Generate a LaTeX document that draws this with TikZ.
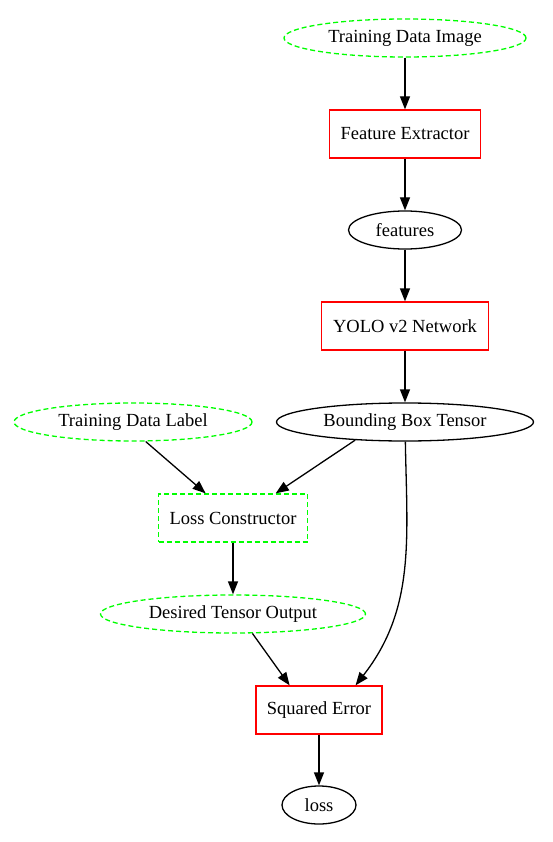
\documentclass[tikz,border=0pt]{standalone}
\usepackage{fontspec}
\setmainfont{Liberation Serif}
\usepackage{tikz}
\usetikzlibrary{arrows.meta, shapes.geometric}

\begin{document}
\begin{tikzpicture}[x=1pt, y=-1pt, line width=1.3pt,
    font=\fontsize{18.5}{22}\selectfont,
    ell/.style={draw, ellipse, inner sep=0pt, minimum height=38pt},
    greenell/.style={ell, draw=green, dash pattern=on 5pt off 3pt},
    redbox/.style={draw=red, rectangle, inner sep=0pt, minimum height=48pt},
    greenbox/.style={draw=green, rectangle, inner sep=0pt, minimum height=48pt, dash pattern=on 5pt off 3pt},
    edge/.style={-{Triangle[length=13pt, width=10pt]}, black}]
            \useasboundingbox (0,0) rectangle (553,842);

            % Image branch
            \node[greenell, minimum width=242pt] (tdi) at (405,38) {Training Data Image};
            \node[redbox, minimum width=151pt] (fe) at (405,134) {Feature Extractor};
            \node[ell, minimum width=113pt] (feat) at (405,230) {features};
            \node[redbox, minimum width=167pt] (yolo) at (405,326) {YOLO v2 Network};
            \node[ell, minimum width=257pt] (bbt) at (405,422) {Bounding Box Tensor};

            % Label branch
            \node[greenell, minimum width=238pt] (tdl) at (133,422) {Training Data Label};
            \node[greenbox, minimum width=149pt] (lc) at (233,518) {Loss Constructor};
            \node[greenell, minimum width=265pt] (dto) at (233,614) {Desired Tensor Output};

            % Loss
            \node[redbox, minimum width=126pt] (se) at (319,710) {Squared Error};
            \node[ell, minimum width=74pt] (loss) at (319,805) {loss};

            % Edges
            \draw[edge] (tdi) -- (fe);
            \draw[edge] (fe) -- (feat);
            \draw[edge] (feat) -- (yolo);
            \draw[edge] (yolo) -- (bbt);
            \draw[edge] (tdl.-57) -- (lc.138);
            \draw[edge] (bbt.200) -- (lc.30);
            \draw[edge] (lc) -- (dto);
            \draw[edge] (dto.-45) -- (se.140);
            \draw[edge] (bbt.-89) to[out=-89, in=52] (se.34);
            \draw[edge] (se) -- (loss);
        \end{tikzpicture}
\end{document}
